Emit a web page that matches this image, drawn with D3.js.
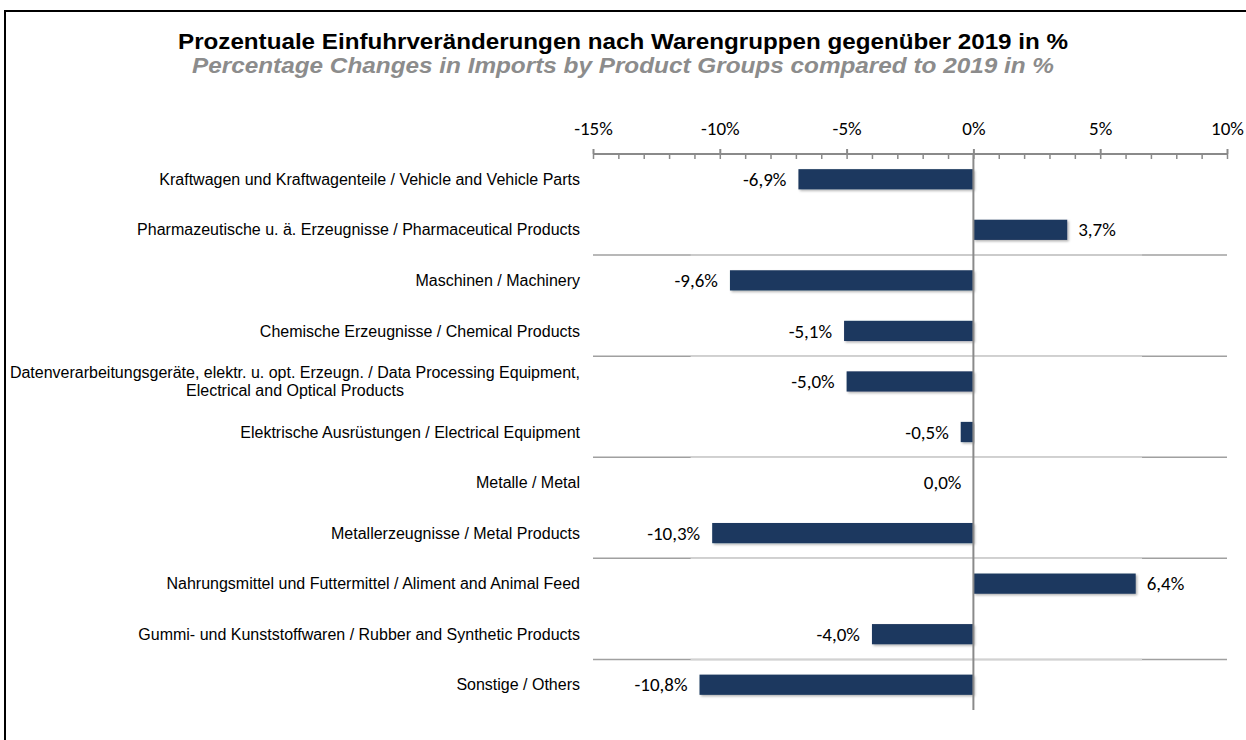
<!DOCTYPE html>
<html>
<head>
<meta charset="utf-8">
<script src="https://cdn.jsdelivr.net/npm/d3@7"></script>
<style>
    body { margin: 0; background: #fff; }
    .cat-label { font-family: "Liberation Sans", Arial, sans-serif; font-size: 16px; fill: #000; }
    .val-label { font-family: Carlito, Calibri, Lato, sans-serif; font-size: 19px; fill: #000; }
    .tick text { font-family: Carlito, Calibri, Lato, sans-serif; font-size: 19px; fill: #000; }
</style>
</head>
<body>
<svg id="chart"></svg>
<script>
// Categories (top to bottom) and values in %
var categories = [
    "Kraftwagen und Kraftwagenteile / Vehicle and Vehicle Parts",
    "Pharmazeutische u. ä. Erzeugnisse / Pharmaceutical Products",
    "Maschinen / Machinery",
    "Chemische Erzeugnisse / Chemical Products",
    "Datenverarbeitungsgeräte, elektr. u. opt. Erzeugn. / Data Processing Equipment,|Electrical and Optical Products",
    "Elektrische Ausrüstungen / Electrical Equipment",
    "Metalle / Metal",
    "Metallerzeugnisse / Metal Products",
    "Nahrungsmittel und Futtermittel / Aliment and Animal Feed",
    "Gummi- und Kunststoffwaren / Rubber and Synthetic Products",
    "Sonstige / Others"
];
var values = [-6.9, 3.7, -9.6, -5.1, -5.0, -0.5, 0.0, -10.3, 6.4, -4.0, -10.8];
var majorTicks = [-15, -10, -5, 0, 5, 10];
var minorTicks = d3.range(-15, 11, 1);

var data = categories.map(function (c, i) { return { cat: c, value: values[i] }; });

var W = 1246, H = 740;
var margin = { top: 154, right: 19, bottom: 30, left: 593 };

var svg = d3.select("#chart").attr("width", W).attr("height", H);

// Frame around the chart (runs off the right and bottom edges)
svg.append("rect")
    .attr("x", 5).attr("y", 11)
    .attr("width", W + 20).attr("height", H + 20)
    .attr("fill", "none")
    .attr("stroke", "#000")
    .attr("stroke-width", 2);

// Soft shadow for the bars
var defs = svg.append("defs");
var f = defs.append("filter").attr("id", "shadow").attr("x", "-5%").attr("y", "-20%").attr("width", "115%").attr("height", "160%");
f.append("feDropShadow").attr("dx", 1.5).attr("dy", 1.5).attr("stdDeviation", 1.2).attr("flood-color", "#000").attr("flood-opacity", 0.3);

// Titles
svg.append("text")
    .attr("x", W / 2).attr("y", 49)
    .attr("text-anchor", "middle")
    .attr("textLength", 890).attr("lengthAdjust", "spacingAndGlyphs")
    .style("font-family", "'Liberation Sans', Arial, sans-serif")
    .style("font-size", "22px").style("font-weight", "bold")
    .text("Prozentuale Einfuhrveränderungen nach Warengruppen gegenüber 2019 in %");

svg.append("text")
    .attr("x", W / 2).attr("y", 73)
    .attr("text-anchor", "middle")
    .attr("textLength", 862).attr("lengthAdjust", "spacingAndGlyphs")
    .style("font-family", "'Liberation Sans', Arial, sans-serif")
    .style("font-size", "22px").style("font-weight", "bold").style("font-style", "italic")
    .attr("fill", "#8c8c8c")
    .text("Percentage Changes in Imports by Product Groups compared to 2019 in %");

// Scales
var x = d3.scaleLinear()
    .domain([-15, 10])
    .range([margin.left, W - margin.right]);

var y = d3.scaleBand()
    .domain(categories)
    .range([margin.top, H - margin.bottom])
    .paddingInner(0.6)
    .paddingOuter(0.3);

var gap = (y.step() - y.bandwidth()) / 2;

// Horizontal separators after every second category
var sepData = categories.filter(function (c, i) { return i > 0 && i % 2 === 0; });
var lo = d3.min(values) - 0.35, hi = d3.max(values) + 0.25;
sepData.forEach(function (c) {
    var yy = y(c) - gap;
    svg.append("line")
        .attr("x1", x.range()[0]).attr("x2", x.range()[1])
        .attr("y1", yy).attr("y2", yy)
        .attr("stroke", "#a0a0a0").attr("stroke-width", 1.5);
    svg.append("line")
        .attr("x1", x(lo)).attr("x2", x(hi))
        .attr("y1", yy).attr("y2", yy)
        .attr("stroke", "#d2d2d2").attr("stroke-width", 1.5);
});

// Bars
svg.selectAll(".bar")
    .data(data)
    .enter().append("rect")
    .attr("class", "bar")
    .attr("x", function (d) { return x(Math.min(0, d.value)); })
    .attr("y", function (d) { return y(d.cat); })
    .attr("width", function (d) { return Math.abs(x(d.value) - x(0)); })
    .attr("height", y.bandwidth())
    .attr("fill", "#1c375e")
    .attr("filter", "url(#shadow)");

// Zero line
svg.append("line")
    .attr("x1", x(0)).attr("x2", x(0))
    .attr("y1", margin.top).attr("y2", H - margin.bottom)
    .attr("stroke", "#8a8a8a").attr("stroke-width", 2);

// Top axis: major ticks with labels, minor ticks below
var axisColor = "#8a8a8a";
var major = svg.append("g")
    .attr("transform", "translate(0," + margin.top + ")")
    .call(d3.axisTop(x).tickValues(majorTicks).tickSize(5).tickPadding(14)
        .tickFormat(function (d) { return d + "%"; }));
major.selectAll("line").attr("stroke", axisColor).attr("stroke-width", 2);
major.select(".domain").remove();

var minor = svg.append("g")
    .attr("transform", "translate(0," + margin.top + ")")
    .call(d3.axisBottom(x).tickValues(minorTicks).tickSize(5).tickFormat(""));
minor.selectAll("line").attr("stroke", axisColor).attr("stroke-width", 1.5);
minor.select(".domain").remove();

svg.append("line")
    .attr("x1", x.range()[0]).attr("x2", x.range()[1])
    .attr("y1", margin.top).attr("y2", margin.top)
    .attr("stroke", axisColor).attr("stroke-width", 2);

// Category labels (right aligned, multi-line blocks centred on their widest line)
var labelRight = margin.left - 13;
data.forEach(function (d) {
    var lines = d.cat.split("|");
    var cy = y(d.cat) + y.bandwidth() / 2;
    var lh = 18;
    var g = svg.append("g");
    var texts = lines.map(function (t, i) {
        return g.append("text")
            .attr("class", "cat-label")
            .attr("y", cy + (i - (lines.length - 1) / 2) * lh)
            .attr("dy", "0.35em")
            .attr("text-anchor", "middle")
            .text(t);
    });
    var widest = d3.max(texts, function (t) { return t.node().getComputedTextLength(); });
    texts.forEach(function (t) { t.attr("x", labelRight - widest / 2); });
});

// Value labels
svg.selectAll(".val-label")
    .data(data)
    .enter().append("text")
    .attr("class", "val-label")
    .attr("x", function (d) { return d.value > 0 ? x(d.value) + 11 : x(Math.min(0, d.value)) - 12; })
    .attr("y", function (d) { return y(d.cat) + y.bandwidth() / 2; })
    .attr("dy", "0.35em")
    .attr("text-anchor", function (d) { return d.value > 0 ? "start" : "end"; })
    .text(function (d) { return d.value.toFixed(1).replace(".", ",") + "%"; });
</script>
</body>
</html>
